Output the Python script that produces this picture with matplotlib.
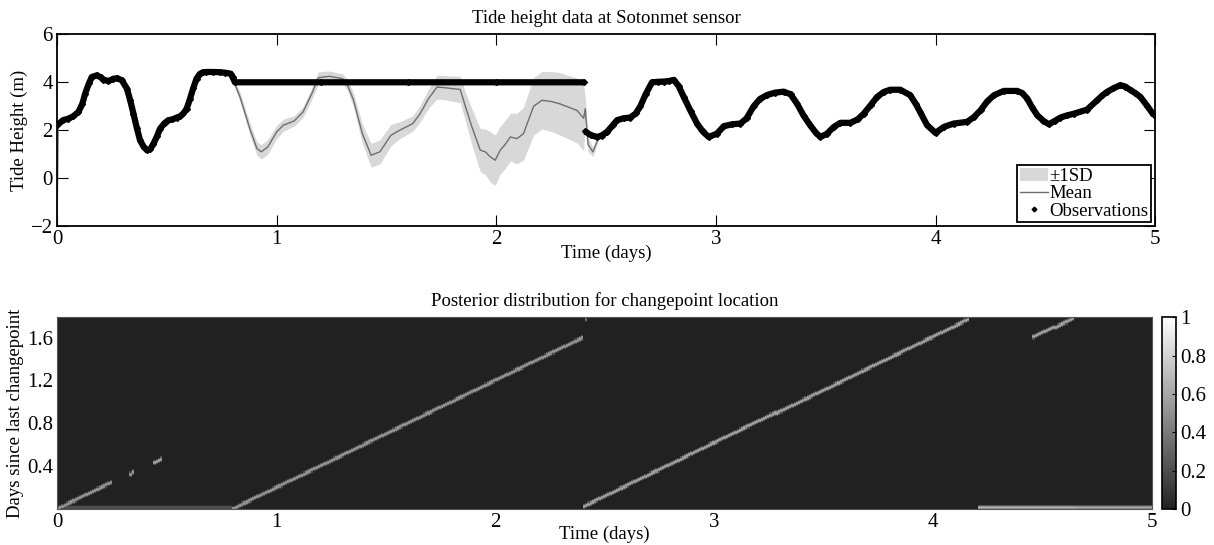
import numpy as np
import matplotlib
matplotlib.use('Agg')
import matplotlib.pyplot as plt
from matplotlib.colors import LinearSegmentedColormap

plt.rcParams['font.family'] = ['Liberation Serif', 'DejaVu Serif']
plt.rcParams['font.size'] = 13.5

# observations, first part (incl. the stuck sensor at 4.0 m)
obs1_t = [0.0, 0.027, 0.05, 0.073, 0.097, 0.115, 0.128, 0.145, 0.158, 0.181, 0.2, 0.211, 0.234,
          0.257, 0.275, 0.295, 0.318, 0.333, 0.348, 0.363, 0.378, 0.395, 0.409, 0.425, 0.439,
          0.455, 0.469, 0.49, 0.507, 0.525, 0.545, 0.56, 0.575, 0.59, 0.605, 0.62, 0.635, 0.65,
          0.665, 0.68, 0.71, 0.74, 0.765, 0.79, 0.80, 0.81, 1.2, 1.6, 2.0, 2.40]
obs1_h = [2.21, 2.42, 2.48, 2.58, 2.76, 3.1, 3.53, 3.95, 4.22, 4.29, 4.2, 4.11, 4.05,
          4.15, 4.17, 4.08, 3.74, 3.25, 2.69, 2.1, 1.58, 1.3, 1.17, 1.22, 1.44,
          1.75, 2.07, 2.3, 2.42, 2.45, 2.53, 2.58, 2.7, 2.9, 3.3, 3.75, 4.15, 4.35,
          4.42, 4.43, 4.43, 4.42, 4.4, 4.36, 4.2, 4.0, 4.0, 4.0, 4.0, 4.0]
# observations, second part
obs2_t = [2.405, 2.43, 2.459, 2.48, 2.504, 2.53, 2.55, 2.58, 2.61, 2.635, 2.656, 2.68, 2.709,
          2.735, 2.762, 2.785, 2.808, 2.83, 2.853, 2.885, 2.914, 2.94, 2.967, 3.005, 3.036,
          3.075, 3.112, 3.14, 3.172, 3.2, 3.233, 3.27, 3.309, 3.34, 3.37, 3.40, 3.43, 3.455,
          3.476, 3.505, 3.537, 3.567, 3.612, 3.645, 3.673, 3.705, 3.734, 3.765, 3.794, 3.84,
          3.885, 3.91, 3.93, 3.962, 4.0, 4.038, 4.083, 4.144, 4.175, 4.205, 4.235, 4.266,
          4.311, 4.372, 4.395, 4.418, 4.44, 4.463, 4.49, 4.516, 4.545, 4.569, 4.6, 4.63,
          4.69, 4.736, 4.76, 4.781, 4.81, 4.842, 4.865, 4.888, 4.91, 4.933, 4.965, 4.994]
obs2_h = [1.95, 1.8, 1.72, 1.78, 1.93, 2.2, 2.42, 2.5, 2.53, 2.7, 3.0, 3.5, 4.0,
          4.02, 4.03, 4.05, 4.1, 3.85, 3.4, 2.8, 2.28, 1.95, 1.72, 1.86, 2.17,
          2.25, 2.28, 2.5, 3.0, 3.3, 3.47, 3.57, 3.61, 3.5, 3.1, 2.6, 2.2, 1.9,
          1.72, 1.85, 2.14, 2.31, 2.31, 2.45, 2.69, 3.05, 3.39, 3.6, 3.69, 3.69,
          3.46, 3.1, 2.76, 2.21, 1.89, 2.14, 2.28, 2.35, 2.55, 2.83, 3.2, 3.46,
          3.64, 3.64, 3.55, 3.32, 2.95, 2.63, 2.4, 2.25, 2.4, 2.53, 2.62, 2.69,
          2.86, 3.25, 3.45, 3.6, 3.75, 3.88, 3.82, 3.67, 3.55, 3.39, 3.0, 2.63]

# GP mean and SD where the sensor was stuck
gap_t = [0.0, 0.005, 0.79, 0.833, 0.88, 0.91, 0.93, 0.96, 1.0, 1.03, 1.08, 1.12, 1.16, 1.19,
         1.24, 1.30, 1.32, 1.35, 1.39, 1.43, 1.47, 1.52, 1.56, 1.62, 1.654, 1.69, 1.73,
         1.76, 1.836, 1.859, 1.889, 1.927, 1.95, 1.973, 1.995, 2.018, 2.04, 2.064, 2.094,
         2.124, 2.17, 2.208, 2.25, 2.29, 2.367, 2.398, 2.405, 2.418, 2.44, 2.47, 2.5]
gap_mean = [-1.9, 2.21, 4.36, 3.39, 2.0, 1.24, 1.10, 1.31, 1.93, 2.21, 2.39, 2.76, 3.53, 4.19,
            4.25, 4.15, 3.94, 3.25, 1.86, 0.96, 1.1, 1.79, 2.0, 2.28, 2.7, 3.3, 3.8,
            3.78, 3.7, 3.0, 2.14, 1.17, 1.1, 0.89, 0.75, 1.17, 1.4, 1.72, 1.65,
            1.86, 3.0, 3.25, 3.2, 3.1, 2.83, 2.5, 2.9, 1.4, 1.1, 1.8, 1.93]
gap_sd = [1.0, 0.1, 0.1, 0.2, 0.25, 0.28, 0.3, 0.3, 0.28, 0.25, 0.22, 0.22, 0.25, 0.25,
          0.22, 0.2, 0.22, 0.3, 0.4, 0.5, 0.5, 0.45, 0.35, 0.32, 0.35, 0.4, 0.5,
          0.5, 0.55, 0.6, 0.75, 0.9, 0.95, 1.05, 1.05, 1.0, 1.0, 1.0, 1.05,
          1.1, 1.2, 1.2, 1.25, 1.3, 1.35, 1.35, 0.5, 0.3, 0.2, 0.12, 0.1]

# posterior streaks: start time, end time, run length at start, run length at end, level
streak_t0 = [0.0, 0.33, 0.44, 0.0, 0.8, 2.4, 4.45, 4.2, 4.65, 2.41]
streak_t1 = [0.25, 0.35, 0.48, 0.8, 2.4, 4.16, 4.64, 4.65, 5.0, 2.42]
streak_r0 = [0.0, 0.31, 0.43, 0.01, 0.0, 0.02, 1.6, 0.01, 0.01, 1.76]
streak_r1 = [0.25, 0.36, 0.47, 0.01, 1.6, 1.77, 1.78, 0.01, 0.01, 1.77]
streak_lv = [0.55, 0.55, 0.6, 0.22, 0.55, 0.6, 0.6, 0.65, 0.6, 0.4]

# mean / sd over the whole period (observed parts follow the data closely)
m1_t, m1_h = obs1_t[1:43], obs1_h[1:43]
m2_t, m2_h = obs2_t[5:], obs2_h[5:]
mean_t = np.array(gap_t[:2] + m1_t + gap_t[2:] + m2_t)
mean_h = np.array(gap_mean[:2] + m1_h + gap_mean[2:] + m2_h)
sd_h = np.array(gap_sd[:2] + [0.1] * len(m1_t) + gap_sd[2:] + [0.1] * len(m2_t))

fig = plt.figure(figsize=(12.14, 5.45), dpi=100)

ax1 = fig.add_axes([0.047, 0.585, 0.9045, 0.352])
ax1.fill_between(mean_t, mean_h - sd_h, mean_h + sd_h, color='#d8d8d8', lw=0, label='±1SD')
ax1.plot(mean_t, mean_h, color='#6e6e6e', lw=1.0, label='Mean')
ax1.plot(obs1_t, obs1_h, color='k', lw=4.5, solid_capstyle='butt')
ax1.plot(obs2_t, obs2_h, color='k', lw=4.5, solid_capstyle='butt')
ax1.plot(obs1_t + obs2_t, obs1_h + obs2_h, 'kD', ms=3, ls='none', label='Observations')
ax1.set_xlim(0, 5)
ax1.set_ylim(-2, 6)
ax1.set_yticks([-2, 0, 2, 4, 6])
ax1.set_yticklabels(['\u22122', '0', '2', '4', '6'])
ax1.set_xticks([0, 1, 2, 3, 4, 5])
ax1.tick_params(direction='in', length=8, top=True, right=True, width=0.8, labelsize=15, pad=3)
ax1.set_xlabel('Time (days)', labelpad=-3)
ax1.set_ylabel('Tide Height (m)', labelpad=2)
ax1.set_title('Tide height data at Sotonmet sensor', pad=8, fontsize=13.5)
for s in ax1.spines.values():
    s.set_linewidth(1.3)
leg = ax1.legend(loc='lower right', fancybox=False, edgecolor='k', framealpha=1,
                 borderpad=0.15, labelspacing=0.0, handlelength=1.5, handletextpad=0.1,
                 borderaxespad=0.2, markerscale=0.8)
leg.get_frame().set_linewidth(1.3)

# posterior image
dt = 0.01
dr = 0.01
tmax = 5.0
rmax = 1.79
nt = int(round(tmax / dt))
nr = int(round(rmax / dr))
post = np.zeros((nr, nt))
for t0, t1, r0, r1, lv in zip(streak_t0, streak_t1, streak_r0, streak_r1, streak_lv):
    for c in range(nt):
        t = (c + 0.5) * dt
        if t < t0 or t > t1:
            continue
        r = r0 + (r1 - r0) * (t - t0) / max(t1 - t0, 1e-9)
        row = int(r / dr)
        for k, f in [(-2, 0.35), (-1, 0.8), (0, 1.0), (1, 0.8), (2, 0.35)]:
            if 0 <= row + k < nr:
                post[row + k, c] = max(post[row + k, c], lv * f)

cmap = LinearSegmentedColormap.from_list('g', [(0.13, 0.13, 0.13), (1, 1, 1)])
ax2 = fig.add_axes([0.047, 0.066, 0.902, 0.352])
im = ax2.imshow(post, origin='lower', extent=[0, tmax, 0, rmax], aspect='auto',
                cmap=cmap, vmin=0, vmax=1, interpolation='nearest')
ax2.set_xlim(0, 5)
ax2.set_ylim(0, rmax)
ax2.set_xticks([0, 1, 2, 3, 4, 5])
ax2.set_yticks([0.4, 0.8, 1.2, 1.6])
ax2.tick_params(direction='in', length=0, labelsize=15, pad=3)
ax2.set_xlabel('Time (days)', labelpad=-5)
ax2.set_ylabel('Days since last changepoint', labelpad=2)
ax2.set_title('Posterior distribution for changepoint location', pad=8, fontsize=13.5)
for s in ax2.spines.values():
    s.set_color('#555555')

cax = fig.add_axes([0.957, 0.066, 0.0115, 0.352])
cb = fig.colorbar(im, cax=cax, ticks=[0, 0.2, 0.4, 0.6, 0.8, 1])
cb.ax.set_yticklabels(['0', '0.2', '0.4', '0.6', '0.8', '1'])
cb.ax.tick_params(direction='in', length=3, labelsize=15)
cb.outline.set_linewidth(1.2)

fig.savefig('out.png', dpi=100)
